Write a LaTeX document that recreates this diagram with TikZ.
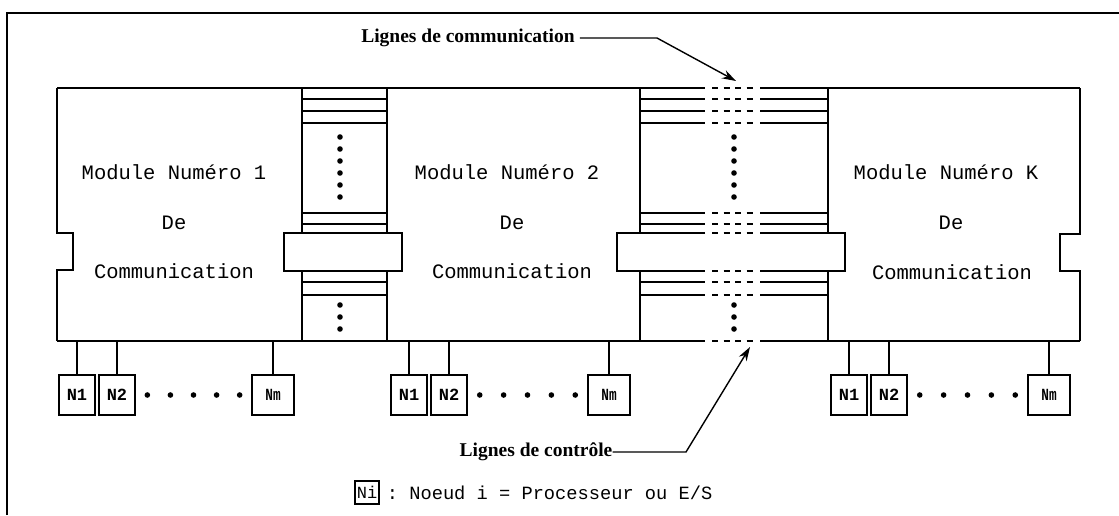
\documentclass[tikz,border=0pt]{standalone}
\usepackage{fontspec}
\usepackage{graphicx}
\setmainfont{Liberation Serif}
\setmonofont{Liberation Mono}
\usetikzlibrary{arrows.meta,calc}
\begin{document}
\begin{tikzpicture}[x=1pt,y=-1pt,
  ln/.style={line width=1.6pt},
  dsh/.style={line width=1.6pt, dash pattern=on 6pt off 5.5pt},
  nbox/.style={draw, line width=1.6pt, minimum width=36pt, minimum height=40pt, inner sep=0pt, font=\fontsize{17}{17}\ttfamily\bfseries},
  modtxt/.style={font=\fontsize{20.5}{22}\ttfamily, inner sep=0pt},
  lbl/.style={font=\fontsize{19.5}{22}\bfseries, inner sep=0pt},
  arr/.style={line width=1.4pt, -{Stealth[length=14pt,width=9pt]}},
  drop/.style={line width=1.4pt},
]
\useasboundingbox (0,0) rectangle (1119,515);
\fill[white] (0,0) rectangle (1119,515);
% outer frame
\draw[line width=1.2pt] (7,515) -- (7,13) -- (1119,13);

% top and bottom lines of the modules
\foreach \y in {88,341}{
  \draw[ln] (57,\y) -- (705,\y);
  \draw[dsh] (712,\y) -- (757,\y);
  \draw[ln] (760,\y) -- (1080,\y);
}
% module 1 left side with notch
\draw[ln] (57,88) -- (57,233) -- (73,233) -- (73,270) -- (57,270) -- (57,341);
% module K right side with notch
\draw[ln] (1080,88) -- (1080,234) -- (1060,234) -- (1060,271) -- (1080,271) -- (1080,341);

% channel verticals
\foreach \x in {302,387,640,828}{
  \draw[ln] (\x,88) -- (\x,233);
  \draw[ln] (\x,271) -- (\x,341);
}
% channel 1 lines
\foreach \y in {99,111,123,213,224,282,295}
  \draw[ln] (302,\y) -- (387,\y);
% channel 2 lines
\foreach \y in {99,111,123,213,224,282,295}{
  \draw[ln] (640,\y) -- (705,\y);
  \draw[dsh] (712,\y) -- (757,\y);
  \draw[ln] (760,\y) -- (828,\y);
}
% connector bars
\draw[ln, fill=white] (284,233) rectangle (402,271);
\fill[white] (617,233) rectangle (845,271);
\draw[ln] (705,233) -- (617,233) -- (617,271) -- (705,271);
\draw[ln] (760,233) -- (845,233) -- (845,271) -- (760,271);
\draw[dsh] (712,233) -- (757,233);
\draw[dsh] (712,271) -- (757,271);

% vertical dots in the channels
\foreach \x in {340,734}{
  \foreach \y in {137,149,161,173,185,197,305,317,329}
    \fill (\x,\y) circle (2.8pt);
}

% module texts
\node[modtxt] (m1a) at (174,172) {Module Numéro 1};
\node[modtxt] (m1b) at (174,223) {De};
\node[modtxt] (m1c) at (174,271) {Communication};
\node[modtxt] (m2a) at (507,172) {Module Numéro 2};
\node[modtxt] (m2b) at (512,223) {De};
\node[modtxt] (m2c) at (512,271) {Communication};
\node[modtxt] (mka) at (946,172) {Module Numéro K};
\node[modtxt] (mkb) at (951,223) {De};
\node[modtxt] (mkc) at (952,272) {Communication};

% node boxes
\node[nbox] (a1) at (77,395) {N1};
\node[nbox] (a2) at (117,395) {N2};
\node[nbox, minimum width=42pt] (am) at (273,395) {\scalebox{0.75}[1]{Nm}};
\node[nbox] (b1) at (409,395) {N1};
\node[nbox] (b2) at (449,395) {N2};
\node[nbox, minimum width=42pt] (bm) at (609,395) {\scalebox{0.75}[1]{Nm}};
\node[nbox] (c1) at (849,395) {N1};
\node[nbox] (c2) at (889,395) {N2};
\node[nbox, minimum width=42pt] (cm) at (1049,395) {\scalebox{0.75}[1]{Nm}};
\foreach \n in {a1,a2,am,b1,b2,bm,c1,c2,cm}
  \draw[drop] (\n.north) -- ++(0,-34);
% horizontal dots between N2 and Nm
\foreach \p/\q in {a2/am,b2/bm,c2/cm}{
  \foreach \k in {0,...,4}
    \fill ($(\p.east)!{0.1+0.2*\k}!(\q.west)$) circle (2.8pt);
}

% labels with arrows
\node[lbl] (lc) at (468,38) {Lignes de communication};
\coordinate (bendc) at (657,38);
\coordinate (tipc) at (736,81);
\draw[arr] ([xshift=5pt]lc.east) -- (bendc) -- (tipc);
\node[lbl] (lk) at (536,452) {Lignes de contrôle};
\coordinate (bendk) at (686,452);
\coordinate (tipk) at (750,347);
\draw[arr] (lk.east) -- (bendk) -- (tipk);

% legend
\node[draw, line width=1.4pt, minimum width=24pt, minimum height=23pt, inner sep=0pt, font=\fontsize{17}{17}\ttfamily] (leg) at (367,492.5) {Ni};
\node[anchor=west, font=\fontsize{18.7}{19}\ttfamily, inner sep=0pt] (legt) at ([xshift=7pt]leg.east) {: Noeud i = Processeur ou E/S};
\end{tikzpicture}
\end{document}
